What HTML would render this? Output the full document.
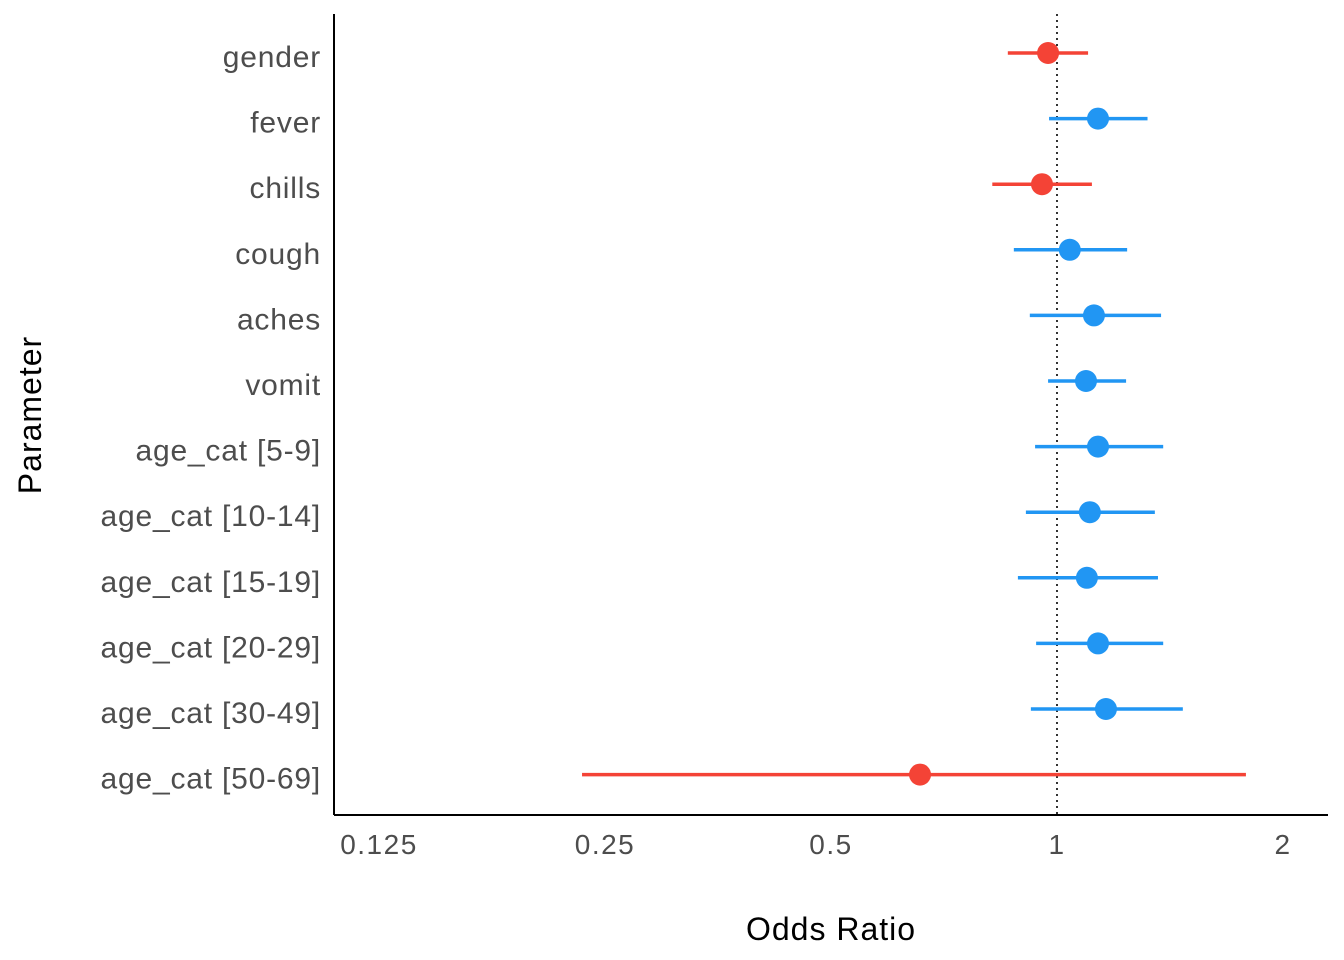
<!DOCTYPE html>
<html><head><meta charset="utf-8"><style>
html,body{margin:0;padding:0;background:#fff;}
svg{display:block;font-family:"Liberation Sans",Arial,sans-serif;}
</style></head><body>
<svg id="chart" width="1344" height="960" viewBox="0 0 1344 960" xmlns="http://www.w3.org/2000/svg"></svg>
<script>
const categories = ["gender","fever","chills","cough","aches","vomit","age_cat [5-9]","age_cat [10-14]","age_cat [15-19]","age_cat [20-29]","age_cat [30-49]","age_cat [50-69]"];
const estimates = [0.973,1.134,0.955,1.04,1.12,1.093,1.134,1.106,1.096,1.134,1.162,0.657];
const lowerCI = [0.86,0.976,0.82,0.876,0.92,0.973,0.935,0.909,0.887,0.938,0.923,0.233];
const upperCI = [1.10,1.32,1.113,1.24,1.376,1.236,1.385,1.35,1.363,1.385,1.471,1.785];
const tickValues = [0.125,0.25,0.5,1,2];
const tickLabels = ["0.125","0.25","0.5","1","2"];

const svg = document.getElementById('chart');
const NS = "http://www.w3.org/2000/svg";
function xScale(v){ return 1057 + 226*Math.log2(v); }
function yScale(i){ return 53 + i*65.6; }
function mk(tag, attrs, parent){
  const e = document.createElementNS(NS, tag);
  for (const k in attrs) e.setAttribute(k, attrs[k]);
  (parent||svg).appendChild(e);
  return e;
}
let e;
e = mk('line',{x1:334,y1:14,x2:334,y2:815,stroke:'#000','stroke-width':2});


e = mk('line',{x1:334,y1:815,x2:1328,y2:815,stroke:'#000','stroke-width':2});


e = mk('line',{x1:xScale(1),y1:14,x2:xScale(1),y2:815,stroke:'#000','stroke-width':1.6,'stroke-dasharray':'2,4'});


tickValues.forEach((v,i)=>{
  const t = mk('text',{x:xScale(v),y:854,'text-anchor':'middle','font-size':28,'letter-spacing':1.5,fill:'#4d4d4d'});
  t.textContent = tickLabels[i];
  
  
});
categories.forEach((c,i)=>{
  const y = yScale(i);
  const t = mk('text',{x:321,y:y+14,'text-anchor':'end','font-size':30,'letter-spacing':0.8,fill:'#4d4d4d'});
  t.textContent = c;
  
  
  const col = estimates[i] < 1 ? '#F44336' : '#2196F3';
  const l = mk('line',{x1:xScale(lowerCI[i]),y1:y,x2:xScale(upperCI[i]),y2:y,stroke:col,'stroke-width':3.5});
  
  
  const p = mk('circle',{cx:xScale(estimates[i]),cy:y,r:11,fill:col});
  
  
});
e = mk('text',{x:831,y:940,'text-anchor':'middle','font-size':32,'letter-spacing':1,fill:'#000'});
e.textContent = 'Odds Ratio';


e = mk('text',{x:0,y:0,'text-anchor':'middle','font-size':32,'letter-spacing':1,fill:'#000',transform:'translate(41,415) rotate(-90)'});
e.textContent = 'Parameter';


</script>
</body></html>
